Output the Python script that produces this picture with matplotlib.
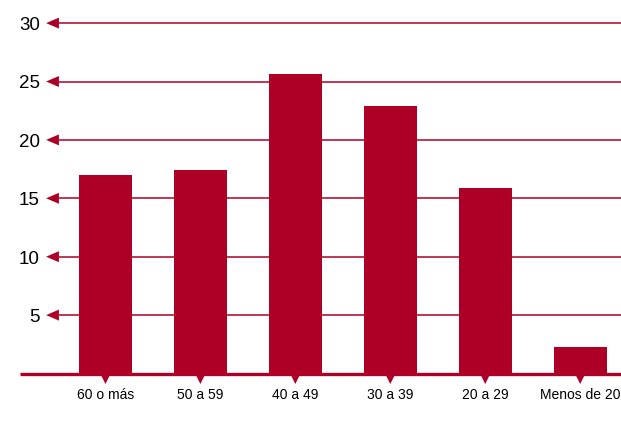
import matplotlib.pyplot as plt
from matplotlib.patches import Polygon

plt.rcParams['font.family'] = ['Liberation Sans', 'DejaVu Sans']

# data
categories = ['60 o más', '50 a 59', '40 a 49', '30 a 39', '20 a 29', 'Menos de 20']
values = [17.0, 17.4, 25.6, 22.9, 15.9, 2.3]
yticks = [5, 10, 15, 20, 25, 30]

red = '#ae0026'

W, H = 621, 429
fig = plt.figure(figsize=(W / 100, H / 100), dpi=100)

# axes: value 0 at pixel y=373.5, 11.68 px per unit, category 0 at x=105.5, 95 px step
ytop = 31.5
bottom_px = 373.5
ax = fig.add_axes([20 / W, (H - bottom_px) / H, 601 / W, ytop * 11.68 / H])
ax.set_xlim(-0.9, 5.43)
ax.set_ylim(0, ytop)
ax.axis('off')

x = list(range(len(categories)))
ax.bar(x, values, width=0.56, color=red, zorder=2)

# gridlines with arrow heads at the left
grid_start = -0.49
for t in yticks:
    ax.plot([grid_start, 5.43], [t, t], color=red, lw=1.1, zorder=1, solid_capstyle='butt')
    ax.add_patch(Polygon([[-0.625, t], [grid_start, t + 0.47], [grid_start, t - 0.47]],
                         closed=True, color=red, lw=0, zorder=3))
    ax.text(-0.69, t - 0.2, str(t), ha='right', va='center', fontsize=13.5, color='black')

# baseline
ax.plot([-0.9, 5.43], [0, 0], color=red, lw=2.4, zorder=4, solid_capstyle='butt', clip_on=False)

# down markers and category labels
for i, c in enumerate(categories):
    ax.add_patch(Polygon([[i - 0.055, 0], [i + 0.055, 0], [i, -0.9]],
                         closed=True, color=red, lw=0, zorder=4, clip_on=False))
    ax.text(i, -1.2, c, ha='center', va='top', fontsize=10, color='black')

fig.savefig('out.png', dpi=100)
